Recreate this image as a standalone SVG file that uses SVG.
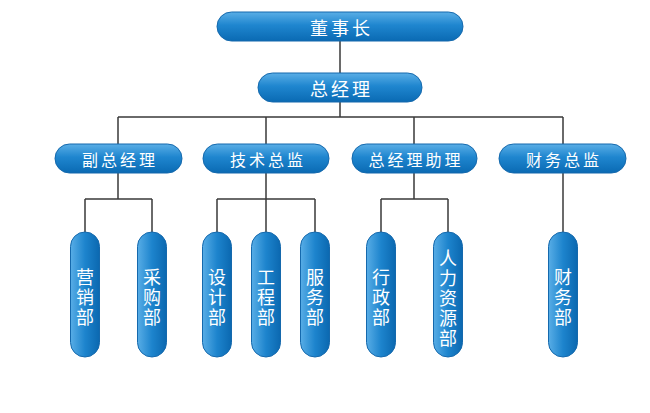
<svg xmlns="http://www.w3.org/2000/svg" width="650" height="413" viewBox="0 0 650 413">
<defs>
<linearGradient id="gh" x1="0" y1="0" x2="0" y2="1">
<stop offset="0" stop-color="#5aaee6"/>
<stop offset="0.45" stop-color="#1f86cf"/>
<stop offset="1" stop-color="#0a6ab3"/>
</linearGradient>
<linearGradient id="gv" x1="0" y1="0" x2="1" y2="0">
<stop offset="0" stop-color="#58ade6"/>
<stop offset="0.5" stop-color="#1d84cd"/>
<stop offset="1" stop-color="#0b68b0"/>
</linearGradient>
<style>
.h{fill:url(#gh);stroke:#1569ad;stroke-width:1}
.v{fill:url(#gv);stroke:#1569ad;stroke-width:1}
.t{fill:#ffffff;font-family:"Noto Sans CJK SC","Noto Sans",sans-serif;text-anchor:middle;dominant-baseline:central}
.t1{font-size:18px;letter-spacing:3px}
.t2{font-size:16px;letter-spacing:3px}
.t3{font-size:18px;letter-spacing:2px;writing-mode:vertical-rl;text-orientation:upright}
.c{fill:none;stroke:#3a3a3a;stroke-width:1.5}
</style>
</defs>
<rect width="650" height="413" fill="#ffffff"/>
<g id="connectors">
<path class="c" d="M340 41V73M340 102V117M118 117H563M118 117V144M266 117V144M414 117V144M563 117V144"/>
<path class="c" d="M118 173V199M85 199H152M85 199V232M152 199V232"/>
<path class="c" d="M266 173V199M217 199H315M217 199V232M266 199V232M315 199V232"/>
<path class="c" d="M414 173V199M381 199H448M381 199V232M448 199V232"/>
<path class="c" d="M563 173V232"/>
</g>
<g id="n-dsz"><rect class="h" x="217" y="12" width="246" height="29" rx="14.5"/><text class="t t1" x="341.5" y="27">董事长</text></g>
<g id="n-zjl"><rect class="h" x="258" y="73" width="164" height="29" rx="14.5"/><text class="t t1" x="341.5" y="88">总经理</text></g>
<g id="n-fzjl"><rect class="h" x="55" y="144" width="127" height="29" rx="14.5"/><text class="t t2" x="120" y="159">副总经理</text></g>
<g id="n-jszj"><rect class="h" x="203" y="144" width="126" height="29" rx="14.5"/><text class="t t2" x="268" y="159">技术总监</text></g>
<g id="n-zjlzl"><rect class="h" x="352" y="144" width="125" height="29" rx="14.5"/><text class="t t2" x="416" y="159">总经理助理</text></g>
<g id="n-cwzj"><rect class="h" x="499" y="144" width="127" height="29" rx="14.5"/><text class="t t2" x="564" y="159">财务总监</text></g>
<g id="n-yxb"><rect class="v" x="70.5" y="232" width="29" height="125" rx="14.5"/><text class="t t3" x="85" y="298">营销部</text></g>
<g id="n-cgb"><rect class="v" x="137.5" y="232" width="29" height="125" rx="14.5"/><text class="t t3" x="152" y="298">采购部</text></g>
<g id="n-sjb"><rect class="v" x="202.5" y="232" width="29" height="125" rx="14.5"/><text class="t t3" x="217" y="298">设计部</text></g>
<g id="n-gcb"><rect class="v" x="251.5" y="232" width="29" height="125" rx="14.5"/><text class="t t3" x="266" y="298">工程部</text></g>
<g id="n-fwb"><rect class="v" x="300.5" y="232" width="29" height="125" rx="14.5"/><text class="t t3" x="315" y="298">服务部</text></g>
<g id="n-xzb"><rect class="v" x="366.5" y="232" width="29" height="125" rx="14.5"/><text class="t t3" x="381" y="298">行政部</text></g>
<g id="n-rlzyb"><rect class="v" x="433.5" y="232" width="29" height="125" rx="14.5"/><text class="t t3" x="448" y="299">人力资源部</text></g>
<g id="n-cwb"><rect class="v" x="548.5" y="232" width="29" height="125" rx="14.5"/><text class="t t3" x="563" y="298">财务部</text></g>
</svg>
